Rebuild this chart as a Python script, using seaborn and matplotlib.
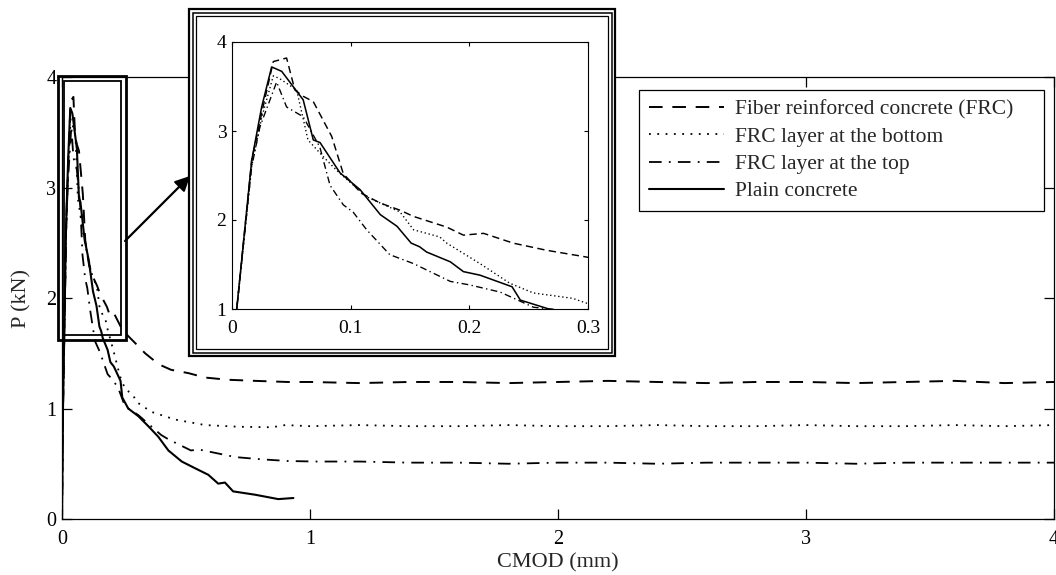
import matplotlib
matplotlib.use("Agg")
import matplotlib.pyplot as plt
from matplotlib.patches import Rectangle
import seaborn as sns

# 읽은 값: CMOD (mm), P (kN)
frc_x = [0, 0.004, 0.0166, 0.025, 0.0348, 0.046, 0.053, 0.060, 0.0685, 0.084, 0.0938,
         0.109, 0.125, 0.1416, 0.153, 0.181, 0.195, 0.212, 0.237, 0.265, 0.296, 0.335,
         0.39, 0.44, 0.51, 0.577, 0.67, 0.78, 0.91,
         1.0, 1.2, 1.4, 1.6, 1.8, 2.0, 2.2, 2.4, 2.6, 2.8, 3.0, 3.2, 3.4, 3.6, 3.8, 4.0]
frc_y = [0, 1.0, 2.67, 3.2, 3.78, 3.82, 3.46, 3.39, 3.33, 2.94, 2.52,
         2.30, 2.19, 2.11, 2.04, 1.92, 1.83, 1.85, 1.74, 1.66, 1.59, 1.50,
         1.40, 1.35, 1.32, 1.28, 1.26, 1.25, 1.24,
         1.24, 1.23, 1.24, 1.24, 1.23, 1.24, 1.25, 1.24, 1.23, 1.24, 1.24, 1.23, 1.24, 1.25, 1.23, 1.24]

bottom_x = [0, 0.004, 0.0166, 0.025, 0.0348, 0.040, 0.0545, 0.064, 0.077, 0.088, 0.1135,
            0.1416, 0.153, 0.175, 0.181, 0.209, 0.234, 0.254, 0.287, 0.30, 0.36, 0.456,
            0.577, 0.71, 0.846, 0.90,
            1.0, 1.2, 1.4, 1.6, 1.8, 2.0, 2.2, 2.4, 2.6, 2.8, 3.0, 3.2, 3.4, 3.6, 3.8, 4.0]
bottom_y = [0, 1.0, 2.6, 3.15, 3.62, 3.59, 3.46, 2.90, 2.71, 2.56, 2.26,
            2.09, 1.89, 1.81, 1.74, 1.51, 1.29, 1.18, 1.12, 1.06, 0.97, 0.90,
            0.85, 0.835, 0.83, 0.85,
            0.84, 0.85, 0.84, 0.84, 0.85, 0.84, 0.84, 0.85, 0.84, 0.84, 0.85, 0.84, 0.84, 0.85, 0.84, 0.85]

top_x = [0, 0.004, 0.0166, 0.0236, 0.0376, 0.046, 0.060, 0.074, 0.0826, 0.0938, 0.102,
         0.1135, 0.133, 0.153, 0.170, 0.184, 0.2005, 0.226, 0.254, 0.308, 0.40, 0.43,
         0.52, 0.55, 0.657, 0.70, 0.805, 0.91, 1.02,
         1.2, 1.4, 1.6, 1.8, 2.0, 2.2, 2.4, 2.6, 2.8, 3.0, 3.2, 3.4, 3.6, 3.8, 4.0]
top_y = [0, 1.0, 2.6, 3.05, 3.55, 3.27, 3.16, 2.82, 2.39, 2.17, 2.09,
         1.89, 1.61, 1.51, 1.40, 1.31, 1.27, 1.19, 1.02, 0.94, 0.76, 0.72,
         0.62, 0.63, 0.58, 0.56, 0.54, 0.525, 0.52,
         0.52, 0.51, 0.51, 0.50, 0.51, 0.51, 0.50, 0.51, 0.51, 0.51, 0.50, 0.51, 0.51, 0.51, 0.51]

plain_x = [0, 0.004, 0.0166, 0.025, 0.0334, 0.0419, 0.060, 0.0685, 0.0742, 0.091, 0.108,
           0.125, 0.139, 0.151, 0.158, 0.164, 0.184, 0.195, 0.209, 0.236, 0.243, 0.267,
           0.308, 0.348, 0.388, 0.429, 0.483, 0.536, 0.59, 0.63, 0.657, 0.69, 0.778,
           0.872, 0.933]
plain_y = [0, 1.0, 2.67, 3.27, 3.72, 3.67, 3.35, 2.90, 2.87, 2.53, 2.34,
           2.06, 1.93, 1.74, 1.70, 1.64, 1.53, 1.42, 1.38, 1.25, 1.10, 1.00,
           0.93, 0.84, 0.745, 0.62, 0.52, 0.46, 0.40, 0.32, 0.33, 0.25, 0.22,
           0.18, 0.19]

labels = ["Fiber reinforced concrete (FRC)", "FRC layer at the bottom",
          "FRC layer at the top", "Plain concrete"]

main_ticks = [0, 1, 2, 3, 4]
inset_xticks = [0, 0.1, 0.2, 0.3]
inset_xlabels = ["0", "0.1", "0.2", "0.3"]
inset_yticks = [1, 2, 3, 4]

W, H = 1056, 575


def fig_box(x0, y0, x1, y1):
    # 픽셀 좌표(위쪽 기준) -> figure fraction
    return (x0 / W, 1 - y1 / H), (x1 - x0) / W, (y1 - y0) / H


def frame(fig, x0, y0, x1, y1, lw, z=1, fill=False):
    xy, w, h = fig_box(x0, y0, x1, y1)
    fig.add_artist(Rectangle(xy, w, h, transform=fig.transFigure, fill=fill,
                             facecolor="white", edgecolor="black", lw=lw, zorder=z))


sns.set_style("ticks")
plt.rcParams["font.family"] = ["Liberation Serif", "DejaVu Serif"]

fig = plt.figure(figsize=(W / 100, H / 100), dpi=100)
ax = fig.add_axes([62 / W, 1 - 519 / H, 992 / W, 442 / H])

series = [
    (frc_x, frc_y, labels[0], (0, (7, 5)), (0, (5, 3)), 1.4),
    (bottom_x, bottom_y, labels[1], (0, (1, 3.6)), (0, (1, 2)), 1.3),
    (top_x, top_y, labels[2], (0, (7, 4, 1, 4)), (0, (5, 2.5, 1, 2.5)), 1.3),
    (plain_x, plain_y, labels[3], "-", "-", 1.5),
]

for xs, ys, lab, ls, _, lw in series:
    sns.lineplot(x=xs, y=ys, ax=ax, color="black", lw=lw, linestyle=ls,
                 label=lab, estimator=None, sort=False)

ax.set_xlim(0, 4)
ax.set_ylim(0, 4)
ax.set_xticks(main_ticks)
ax.set_yticks(main_ticks)
ax.tick_params(direction="in", length=7, width=0.9, top=True, right=True,
               labelsize=14.5, pad=4, colors="black")
ax.tick_params(axis="x", pad=8)
for sp in ax.spines.values():
    sp.set_linewidth(0.9)
    sp.set_color("black")
ax.set_xlabel("CMOD (mm)", fontsize=16, labelpad=3)
ax.set_ylabel("P (kN)", fontsize=16, labelpad=11)

leg = ax.legend(loc="upper left", bbox_to_anchor=(639 / W, 1 - 208 / H, 405 / W, 118 / H),
                bbox_transform=fig.transFigure, mode="expand", borderaxespad=0,
                fontsize=15.5, handlelength=3.5, handletextpad=0.5, labelspacing=0.33,
                fancybox=False, framealpha=1, edgecolor="black", borderpad=0.45)
leg.get_frame().set_linewidth(0.9)

# 확대 영역 표시 (이중선)
frame(fig, 58, 76, 126, 340, 2.0)
frame(fig, 63.5, 81, 121, 335, 1.3)

# 화살표
ax.annotate("", xy=(190 / W, 1 - 176 / H), xytext=(125 / W, 1 - 241 / H),
            xycoords="figure fraction", textcoords="figure fraction",
            arrowprops=dict(arrowstyle="-|>", color="black", lw=1.6,
                            mutation_scale=22, shrinkA=0, shrinkB=0))

# 인셋 테두리 (삼중선)
frame(fig, 189, 9, 615, 356, 1.6, z=2, fill=True)
frame(fig, 192.5, 12.5, 611.5, 352.5, 1.1, z=3)
frame(fig, 196, 16, 608, 349, 0.9, z=3)

ins = fig.add_axes([232 / W, 1 - 309 / H, 356 / W, 267 / H])
ins.set_zorder(5)
for xs, ys, lab, _, ls2, lw in series:
    sns.lineplot(x=xs, y=ys, ax=ins, color="black", lw=lw * 0.75, linestyle=ls2,
                 estimator=None, sort=False, legend=False)
ins.set_xlim(0, 0.3)
ins.set_ylim(1, 4)
ins.set_xticks(inset_xticks)
ins.set_xticklabels(inset_xlabels)
ins.set_yticks(inset_yticks)
ins.tick_params(direction="in", length=3, width=0.8, top=True, right=True,
                labelsize=14, pad=4, colors="black")
ins.tick_params(axis="x", pad=8)
for sp in ins.spines.values():
    sp.set_linewidth(0.8)
    sp.set_color("black")

fig.savefig("out.png", dpi=100)
